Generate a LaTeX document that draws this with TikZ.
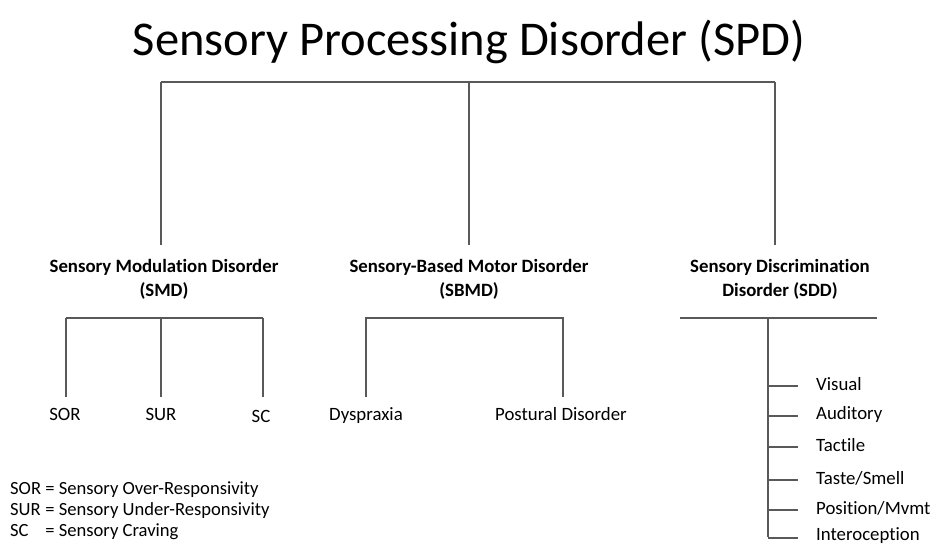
\documentclass[tikz,border=0pt]{standalone}
\usepackage{fontspec}
\setmainfont{Carlito}[Ligatures=NoCommon]

\begin{document}
\begin{tikzpicture}[x=1pt, y=-1pt,
    branch/.style={draw=black!65, line width=1.3pt},
    cat/.style={font=\bfseries\fontsize{18.8}{24}\selectfont, align=center, inner sep=0pt},
    leaf/.style={font=\fontsize{18.8}{22}\selectfont, anchor=base, inner sep=0pt},
    sense/.style={font=\fontsize{18.8}{22}\selectfont, anchor=west, inner sep=0pt}]
\useasboundingbox (0,0) rectangle (935,550);
		\node (SPD)at(469, 42) {\fontsize{48.5}{56}\selectfont Sensory Processing Disorder (SPD)};
		\node[cat] (SMD)at(164, 279) {Sensory Modulation Disorder\\(SMD)};
		\node[cat] (SBMD)at(469, 279) {Sensory-Based Motor Disorder\\(SBMD)};
		\node[cat] (SDD)at(780, 279) {Sensory Discrimination\\Disorder (SDD)};
		\node[leaf] (SOR)at(65, 420) {SOR};
		\node[leaf] (SUR)at(161, 420) {SUR};
		\node[leaf] (SC)at(261, 422) {SC};
		\node[leaf] (Dys)at(366, 420) {Dyspraxia};
		\node[leaf] (Post)at(561, 420) {Postural Disorder};
		% junctions
		\coordinate (topL)at(161, 82);
		\coordinate (topM)at(469, 82);
		\coordinate (topR)at(775, 82);
		\coordinate (smdL)at(66, 318);
		\coordinate (smdM)at(161, 318);
		\coordinate (smdR)at(263, 318);
		\coordinate (sbmdL)at(366, 318);
		\coordinate (sbmdR)at(563, 318);
		\coordinate (sddL)at(680, 318);
		\coordinate (sddM)at(768, 318);
		\coordinate (sddR)at(877, 318);
		\coordinate (sddB)at(768, 537);
		% top level
		\draw[branch] (topL) -- (topR);
		\foreach \j in {topL, topM, topR}
			\draw[branch] (\j) -- ([yshift=-163pt]\j);
		% SMD
		\draw[branch] (smdL) -- (smdR);
		\foreach \j in {smdL, smdM, smdR}
			\draw[branch] (\j) -- ([yshift=-79pt]\j);
		% SBMD
		\draw[branch] ([yshift=-79pt]sbmdL) -- (sbmdL) -- (sbmdR) -- ([yshift=-79pt]sbmdR);
		% SDD
		\draw[branch] (sddL) -- (sddR);
		\draw[branch] (sddM) -- (sddB);
		\foreach \y/\name/\txt in {384/vis/{Visual}, 414/aud/{Auditory}, 445/tac/{Tactile}, 478/tas/{Taste/Smell}, 508/pos/{Position/Mvmt}, 536/int/{Interoception}}{
			\node[sense] (\name)at(816, \y) {\txt};
			\draw[branch] ([yshift=-2pt]sddM |- \name) -- ++(30,0);
		}
		% legend
		\node[anchor=west, inner sep=0pt, font=\fontsize{18.6}{21}\selectfont] (key)at(10, 511) {%
			\begin{tabular}{@{}l@{ }l@{}}
			SOR & = Sensory Over-Responsivity\\
			SUR & = Sensory Under-Responsivity\\
			SC & = Sensory Craving
			\end{tabular}};
\end{tikzpicture}
\end{document}
